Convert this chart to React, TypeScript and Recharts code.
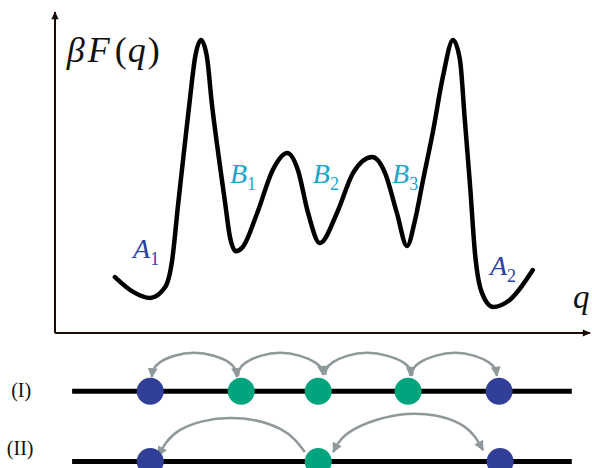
import { ComposedChart, Line, Scatter, XAxis, YAxis, ReferenceDot } from 'recharts';

// free-energy profile (q, βF in arbitrary units)
const curveQ = [1.12, 1.46, 1.78, 2.06, 2.19, 2.3, 2.41, 2.52, 2.62, 2.73, 2.84, 2.93, 3.05, 3.18, 3.27, 3.38, 3.51, 3.78, 4.07, 4.34, 4.54, 4.73, 4.95, 5.27, 5.57, 5.93, 6.17, 6.39, 6.58, 6.73, 6.88, 7.07, 7.25, 7.44, 7.57, 7.66, 7.76, 7.85, 7.98, 8.19, 8.5, 8.93];
const curveF = [1.74, 1.28, 1.09, 1.43, 2.27, 3.99, 5.64, 7.26, 8.6, 9.13, 8.6, 7.17, 5.61, 4.05, 2.99, 2.55, 2.68, 3.74, 5.08, 5.61, 5.08, 3.74, 2.8, 3.74, 4.98, 5.48, 4.98, 3.74, 2.71, 3.52, 4.77, 6.32, 7.98, 9.13, 8.5, 6.64, 4.55, 2.49, 1.25, 0.81, 1.03, 1.96];

// state labels on the profile
const aLabels = [
  { q: 1.46, F: 2.34, sub: '1' },
  { q: 8.13, F: 1.81, sub: '2' },
];
const bLabels = [
  { q: 3.27, F: 4.67, sub: '1' },
  { q: 4.82, F: 4.67, sub: '2' },
  { q: 6.3, F: 4.67, sub: '3' },
];

// hop diagrams: row (I) at y = 2.4, row (II) at y = 0.2
const trackI = [{ q: 0.32, y: 2.4 }, { q: 9.66, y: 2.4 }];
const trackII = [{ q: 0.32, y: 0.2 }, { q: 9.66, y: 0.2 }];
const blueSites = [
  { q: 1.78, y: 2.4 }, { q: 8.3, y: 2.4 },
  { q: 1.78, y: 0.2 }, { q: 8.32, y: 0.2 },
];
const greenSites = [
  { q: 3.48, y: 2.4 }, { q: 4.92, y: 2.4 }, { q: 6.6, y: 2.4 },
  { q: 4.92, y: 0.2 },
];

const hopI1 = [{ q: 3.4, y: 2.84 }, { q: 3.25, y: 3.3 }, { q: 2.6, y: 3.6 }, { q: 1.96, y: 3.3 }, { q: 1.81, y: 2.84 }];
const hopI2 = [{ q: 3.42, y: 2.88 }, { q: 3.57, y: 3.3 }, { q: 4.21, y: 3.6 }, { q: 4.86, y: 3.3 }, { q: 5.01, y: 2.91 }];
const hopI3 = [{ q: 5.05, y: 2.91 }, { q: 5.19, y: 3.3 }, { q: 5.83, y: 3.6 }, { q: 6.51, y: 3.3 }, { q: 6.64, y: 2.88 }];
const hopI4 = [{ q: 6.67, y: 2.88 }, { q: 6.82, y: 3.3 }, { q: 7.48, y: 3.6 }, { q: 8.11, y: 3.3 }, { q: 8.26, y: 2.88 }];
const hopII1 = [{ q: 4.67, y: 0.5 }, { q: 4.21, y: 1.22 }, { q: 3.27, y: 1.56 }, { q: 2.34, y: 1.19 }, { q: 1.93, y: 0.38 }];
const hopII2 = [{ q: 5.2, y: 0.5 }, { q: 5.57, y: 1.19 }, { q: 6.58, y: 1.69 }, { q: 7.57, y: 1.38 }, { q: 8.0, y: 0.56 }];

const rowLabels = [
  { q: -0.82, y: 2.22, text: '(I)' },
  { q: -0.9, y: 0.41, text: '(II)' },
];

const curveData = curveQ.map((q, i) => ({ q, F: curveF[i] }));

const SERIF = '"Liberation Serif", "Times New Roman", "DejaVu Serif", serif';
const AXIS = '#1b0d06';
const BLUE_TXT = '#2d42a5';
const CYAN_TXT = '#19a6c9';
const BLUE = '#323f99';
const GREEN = '#00a57e';
const GREY = '#8f989a';

const italic = { fontFamily: SERIF, fontStyle: 'italic' as const };
const upright = { fontFamily: SERIF, fontStyle: 'normal' as const };

function Site(color: string) {
  return (p: any) => <ellipse cx={p.cx} cy={p.cy} rx={13.5} ry={13.5} fill={color} />;
}

export default function App() {
  const hop = (data: any[], start: boolean, key: string) => (
    <Line
      key={key}
      data={data}
      dataKey="y"
      type="natural"
      stroke={GREY}
      strokeWidth={2.5}
      dot={false}
      activeDot={false}
      isAnimationActive={false}
      markerEnd="url(#hopArrow)"
      markerStart={start ? 'url(#hopArrow)' : undefined}
    />
  );

  return (
    <div style={{ position: 'absolute', left: 0, top: 0, width: 592, height: 468, background: '#fff' }}>
      <ComposedChart width={592} height={340} data={curveData} margin={{ top: 12, right: 2, bottom: 0, left: 0 }}>
        <defs>
          <marker id="axisArrow" viewBox="0 0 10 10" refX="9" refY="5" markerWidth="9" markerHeight="8" markerUnits="userSpaceOnUse" orient="auto-start-reverse">
            <path d="M0,0.5 L10,5 L0,9.5 z" fill={AXIS} />
          </marker>
        </defs>
        <XAxis
          dataKey="q"
          type="number"
          domain={[0, 10]}
          height={7}
          tick={false}
          tickLine={false}
          axisLine={{ stroke: AXIS, strokeWidth: 2, markerEnd: 'url(#axisArrow)' }}
        />
        <YAxis
          type="number"
          domain={[0, 10]}
          width={55}
          tick={false}
          tickLine={false}
          axisLine={{ stroke: AXIS, strokeWidth: 2, markerStart: 'url(#axisArrow)' }}
        />
        <Line dataKey="F" type="monotone" stroke="#000" strokeWidth={4.5} strokeLinecap="round" dot={false} activeDot={false} isAnimationActive={false} />
        <ReferenceDot
          x={0.22}
          y={8.44}
          r={0}
          shape={(p: any) => (
            <text x={p.cx} y={p.cy} fill="#111" fontSize={36} style={upright}>
              <tspan style={italic}>β</tspan>
              <tspan style={italic} dx={3}>F</tspan>
              <tspan dx={5}>(</tspan>
              <tspan style={italic} dx={1}>q</tspan>
              <tspan dx={2}>)</tspan>
            </text>
          )}
        />
        <ReferenceDot
          x={9.68}
          y={0.78}
          r={0}
          shape={(p: any) => (
            <text x={p.cx} y={p.cy} fill="#111" fontSize={33} style={italic}>q</text>
          )}
        />
        {aLabels.map((l) => (
          <ReferenceDot
            key={'a' + l.sub}
            x={l.q}
            y={l.F}
            r={0}
            shape={(p: any) => (
              <text x={p.cx} y={p.cy} fill={BLUE_TXT} fontSize={28} style={italic}>
                A<tspan style={upright} fontSize={18} dy={7}>{l.sub}</tspan>
              </text>
            )}
          />
        ))}
        {bLabels.map((l) => (
          <ReferenceDot
            key={'b' + l.sub}
            x={l.q}
            y={l.F}
            r={0}
            shape={(p: any) => (
              <text x={p.cx} y={p.cy} fill={CYAN_TXT} fontSize={28} style={italic}>
                B<tspan style={upright} fontSize={18} dy={7}>{l.sub}</tspan>
              </text>
            )}
          />
        ))}
      </ComposedChart>

      <ComposedChart width={592} height={128} margin={{ top: 0, right: 2, bottom: 0, left: 55 }}>
        <defs>
          <marker id="hopArrow" viewBox="0 0 10 10" refX="9" refY="5" markerWidth="11" markerHeight="10" markerUnits="userSpaceOnUse" orient="auto-start-reverse">
            <path d="M0,0 L10,5 L0,10 z" fill={GREY} />
          </marker>
        </defs>
        <XAxis dataKey="q" type="number" domain={[0, 10]} hide />
        <YAxis dataKey="y" type="number" domain={[0, 4]} hide />
        <Line data={trackI} dataKey="y" type="linear" stroke="#000" strokeWidth={5} dot={false} activeDot={false} isAnimationActive={false} />
        <Line data={trackII} dataKey="y" type="linear" stroke="#000" strokeWidth={5} dot={false} activeDot={false} isAnimationActive={false} />
        <Scatter data={blueSites} fill={BLUE} shape={Site(BLUE)} isAnimationActive={false} />
        <Scatter data={greenSites} fill={GREEN} shape={Site(GREEN)} isAnimationActive={false} />
        {hop(hopI1, true, 'i1')}
        {hop(hopI2, false, 'i2')}
        {hop(hopI3, false, 'i3')}
        {hop(hopI4, false, 'i4')}
        {hop(hopII1, false, 'ii1')}
        {hop(hopII2, true, 'ii2')}
        {rowLabels.map((l) => (
          <ReferenceDot
            key={l.text}
            x={l.q}
            y={l.y}
            r={0}
            ifOverflow="visible"
            shape={(p: any) => (
              <text x={p.cx} y={p.cy} fill="#111" fontSize={20} style={upright}>{l.text}</text>
            )}
          />
        ))}
      </ComposedChart>
    </div>
  );
}
